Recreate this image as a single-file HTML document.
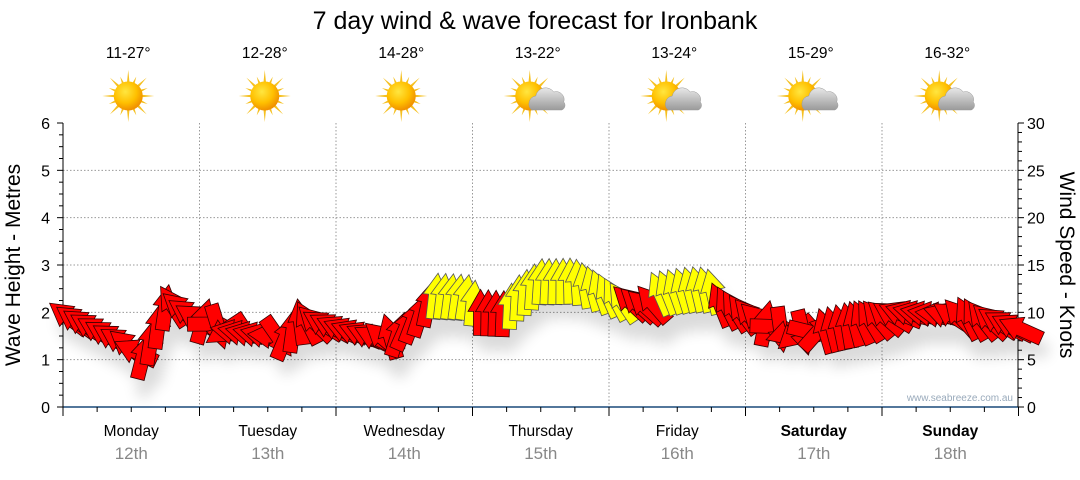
<!DOCTYPE html>
<html><head><meta charset="utf-8"><style>
body{margin:0;background:#fff;width:1080px;height:475px;overflow:hidden;font-family:"Liberation Sans",sans-serif}
svg text{font-family:"Liberation Sans",sans-serif}
</style></head><body>
<svg id="s" width="1080" height="475" xmlns="http://www.w3.org/2000/svg">
<defs>
<radialGradient id="sun" cx="40%" cy="35%" r="65%"><stop offset="0" stop-color="#ffe640"/><stop offset="0.6" stop-color="#ffc000"/><stop offset="1" stop-color="#f09000"/></radialGradient>
<linearGradient id="cl" x1="0" y1="0" x2="0" y2="1"><stop offset="0" stop-color="#e8e8e8"/><stop offset="1" stop-color="#9a9a9a"/></linearGradient>
<filter id="bl"><feGaussianBlur stdDeviation="7"/></filter>
</defs>
<text x="535" y="29" font-size="25" text-anchor="middle" fill="#000">7 day wind &amp; wave forecast for Ironbank</text>
<g id="grid" stroke="#999" stroke-dasharray="1.5,2" stroke-width="1"></g>
<g id="ax"></g>
<g id="shadow" filter="url(#bl)" opacity="0.14"></g>
<g id="arr" stroke="#333" stroke-width="0.8" stroke-linejoin="miter"></g>
<text x="1013" y="401" font-size="10" fill="#9ab" text-anchor="end">www.seabreeze.com.au</text>
<text transform="translate(20,265) rotate(-90)" font-size="21" text-anchor="middle">Wave Height - Metres</text>
<text transform="translate(1060,265) rotate(90)" font-size="21" text-anchor="middle">Wind Speed - Knots</text>
</svg>
<script>
const s=document.getElementById('s'),NS='http://www.w3.org/2000/svg';
function el(p,t,a,txt){const e=document.createElementNS(NS,t);for(const k in a)e.setAttribute(k,a[k]);if(txt!==undefined)e.textContent=txt;p.appendChild(e);return e;}
const g=document.getElementById('grid'),ax=document.getElementById('ax');
const X0=63,X1=1018,Y0=407,Y6=123,PX=(Y0-Y6)/6,DW=136.5;
for(let m=1;m<=5;m++)el(g,'line',{x1:X0,x2:X1,y1:Y0-m*PX,y2:Y0-m*PX});
for(let d=1;d<=6;d++){const x=X0+d*DW;el(g,'line',{x1:x,x2:x,y1:Y6,y2:Y0});}
el(ax,'line',{x1:X0,x2:X1,y1:Y0,y2:Y0,stroke:'#1a4a7a','stroke-width':1.5});
el(ax,'line',{x1:X0,x2:X0,y1:Y6,y2:Y0,stroke:'#000'});
el(ax,'line',{x1:X1,x2:X1,y1:Y6,y2:Y0,stroke:'#000'});
for(let i=0;i<=24;i++){const y=Y0-i*PX/4;el(ax,'line',{x1:X0-(i%4?4:6),x2:X0,y1:y,y2:y,stroke:'#000'});}
for(let i=0;i<=30;i++){const y=Y0-i*PX/5;el(ax,'line',{x1:X1,x2:X1+(i%5?4:6),y1:y,y2:y,stroke:'#000'});}
for(let m=0;m<=6;m++)el(ax,'text',{x:50,y:Y0-m*PX+6,'font-size':16,'text-anchor':'end'},m);
for(let k=0;k<=6;k++)el(ax,'text',{x:1027,y:Y0-k*PX+6,'font-size':16},k*5);
for(let i=0;i<=28;i++){const x=X0+i*DW/4;el(ax,'line',{x1:x,x2:x,y1:Y0,y2:Y0+(i%4?5:9),stroke:'#000'});}
const days=['Monday','Tuesday','Wednesday','Thursday','Friday','Saturday','Sunday'];
const temps=['11-27°','12-28°','14-28°','13-22°','13-24°','15-29°','16-32°'];
for(let d=0;d<7;d++){const cx=X0+d*DW+DW/2;
 el(s,'text',{x:cx,y:436,'font-size':15.5,'text-anchor':'middle','font-weight':d>=5?'bold':'normal'},days[d]);
 el(s,'text',{x:cx,y:459,'font-size':17,'text-anchor':'middle',fill:'#888'},(12+d)+'th');
 el(s,'text',{x:cx-3,y:58,'font-size':15.5,'text-anchor':'middle'},temps[d]);
 const sx=cx-3-(d>=3?8:0),sy=96;const ig=el(s,'g',{});
 for(let r=0;r<16;r++){const a=r*Math.PI/8,L=r%2?21:26;el(ig,'polygon',{points:`${sx+Math.cos(a-0.12)*12},${sy+Math.sin(a-0.12)*12} ${sx+Math.cos(a)*L},${sy+Math.sin(a)*L} ${sx+Math.cos(a+0.12)*12},${sy+Math.sin(a+0.12)*12}`,fill:'#f5c020'});}
 el(ig,'circle',{cx:sx,cy:sy,r:14.5,fill:'url(#sun)'});
 if(d>=3){el(ig,'path',{d:`M${sx+2},${sy+14} a8,8 0 0 1 4,-14 a10,10 0 0 1 18,-4 a8,8 0 0 1 10,10 a5,5 0 0 1 -2,8 z`,fill:'url(#cl)',stroke:'#999','stroke-width':0.5});}
}
const K=[[66,1.95,215,0],[95,1.65,210,0],[125,1.3,215,0],[135,1.15,240,0],[140,0.9,-70,0],[155,1.5,-80,0],[165,2.05,-75,0],[175,2.1,-130,0],[195,1.85,-150,0],[230,1.6,190,0],[270,1.55,190,0],[285,1.5,-70,0],[300,1.85,-100,0],[320,1.8,-150,0],[350,1.6,-160,0],[380,1.4,-150,0],[400,1.5,-60,0],[425,2.0,-70,0],[432,2.3,-80,1],[470,2.3,-80,1],[478,2.0,-90,0],[505,2.0,-90,0],[515,2.3,-90,1],[540,2.7,-90,1],[575,2.7,-95,1],[600,2.45,-110,1],[622,2.2,-120,1],[628,2.2,-135,0],[650,2.05,-135,0],[660,2.35,-110,1],[695,2.45,-100,1],[712,2.45,-100,1],[720,2.15,-110,0],[760,1.85,-140,0],[790,1.6,180,0],[825,1.65,-110,0],[850,1.75,-100,0],[880,1.85,-130,0],[905,1.95,-160,0],[940,1.9,-170,0],[970,1.85,-110,0],[1000,1.8,-150,0],[1025,1.65,-160,0]];
function interp(x){for(let i=0;i<K.length-1;i++){const a=K[i],b=K[i+1];if(x>=a[0]&&x<=b[0]){const t=(x-a[0])/(b[0]-a[0]||1);return [a[1]+(b[1]-a[1])*t,a[2]+(b[2]-a[2])*t,t<0.5?a[3]:b[3]];}}return [K[K.length-1][1],K[K.length-1][2],0];}
const arr=document.getElementById('arr'),sh=document.getElementById('shadow');
const shape='M-23,-7 L1,-7 L1,-12.5 L23,0 L1,12.5 L1,7 L-23,7 Z';
for(let x=68;x<=1022;x+=7.5){const [m,ang,c]=interp(x);const y=Y0-m*PX;
 const jitter=Math.sin(x*1.7)*4;
 el(sh,'path',{d:shape,transform:`translate(${x+6},${y+16}) rotate(${ang})`,fill:'#000'});
 el(arr,'path',{d:shape,transform:`translate(${x},${y+jitter*0.6}) rotate(${ang+jitter})`,fill:c?'#ffff00':'#ff0000',stroke:c?'#555':'#300'});}
</script>
</body></html>
